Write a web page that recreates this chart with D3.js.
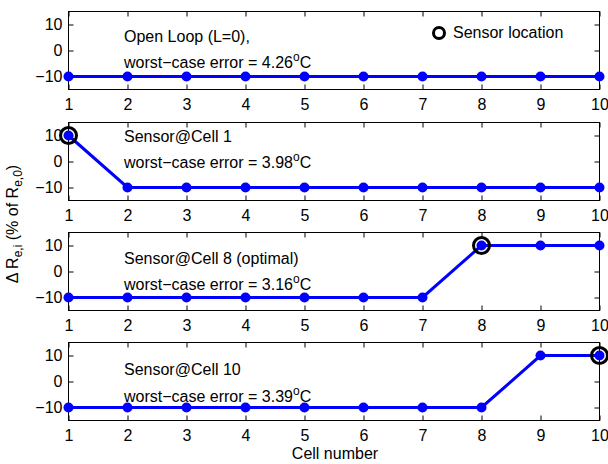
<!DOCTYPE html>
<html><head><meta charset="utf-8">
<script src="https://cdn.jsdelivr.net/npm/d3@7"></script>
<style>body{margin:0;background:#fff}text{font-family:"Liberation Sans",Arial,sans-serif}</style>
</head><body><svg id="c" width="608" height="464"></svg>
<script>
const cells = [1,2,3,4,5,6,7,8,9,10];
const openLoop = [-10,-10,-10,-10,-10,-10,-10,-10,-10,-10];
const sensorCell1 = [10,-10,-10,-10,-10,-10,-10,-10,-10,-10];
const sensorCell8 = [-10,-10,-10,-10,-10,-10,-10,10,10,10];
const sensorCell10 = [-10,-10,-10,-10,-10,-10,-10,-10,10,10];
const series = [openLoop, sensorCell1, sensorCell8, sensorCell10];
const sensorLoc = [null, 1, 8, 10];
const titles = ["Open Loop (L=0),", "Sensor@Cell 1", "Sensor@Cell 8 (optimal)", "Sensor@Cell 10"];
const errors = ["4.26", "3.98", "3.16", "3.39"];
const yTicks = [-10, 0, 10];
const yDomain = [-15, 15];

const svg = d3.select("#c");
const left = 68.5, right = 599.5;
const tops = [11.5, 122.5, 232.5, 342.5];
const titleOff = [30, 19, 31, 32];
const errOff = [56, 45, 57, 59];
const ph = 78;
const x = d3.scaleLinear().domain([1,10]).range([left,right]);
const blue = "#0000ff";
const fs = "16px";

series.forEach((vals, i) => {
  const top = tops[i], bottom = top + ph;
  const y = d3.scaleLinear().domain(yDomain).range([bottom, top]);
  const g = svg.append("g");
  g.append("rect").attr("x", left).attr("y", top).attr("width", right-left).attr("height", ph)
    .attr("fill","none").attr("stroke","#000").attr("stroke-width",1);
  const tl = 5;
  const xb = g.append("g").attr("transform",`translate(0,${bottom})`)
    .call(d3.axisBottom(x).tickValues(cells).tickSize(-tl).tickPadding(9).tickFormat(d3.format("d")));
  const xt = g.append("g").attr("transform",`translate(0,${top})`)
    .call(d3.axisTop(x).tickValues(cells).tickSize(-tl).tickFormat(""));
  const yl = g.append("g").attr("transform",`translate(${left},0)`)
    .call(d3.axisLeft(y).tickValues(yTicks).tickSize(-tl).tickPadding(6).tickFormat(d => d < 0 ? "\u2212" + Math.abs(d) : d));
  const yr = g.append("g").attr("transform",`translate(${right},0)`)
    .call(d3.axisRight(y).tickValues(yTicks).tickSize(-tl).tickFormat(""));
  [xb,xt,yl,yr].forEach(a => {
    a.select(".domain").remove();
    a.selectAll(".tick line").attr("stroke","#000");
    a.selectAll("text").attr("fill","#000").style("font-size",fs).style("font-family",'"Liberation Sans",Arial,sans-serif');
  });
  const line = d3.line().x((d,j) => x(cells[j])).y(d => y(d));
  g.append("path").datum(vals).attr("d", line).attr("fill","none").attr("stroke",blue).attr("stroke-width",3);
  g.selectAll("circle.pt").data(vals).enter().append("circle").attr("class","pt")
    .attr("cx",(d,j)=>x(cells[j])).attr("cy",d=>y(d)).attr("r",5).attr("fill",blue);
  if (sensorLoc[i] !== null) {
    const j = cells.indexOf(sensorLoc[i]);
    g.append("circle").attr("cx", x(cells[j])).attr("cy", y(vals[j])).attr("r", 8)
      .attr("fill","none").attr("stroke","#000").attr("stroke-width",3);
  }
  g.append("text").attr("x",124).attr("y",top+titleOff[i]).style("font-size",fs).text(titles[i]);
  const t2 = g.append("text").attr("x",124).attr("y",top+errOff[i]).style("font-size",fs);
  t2.append("tspan").text("worst\u2212case error = " + errors[i]);
  t2.append("tspan").attr("dy",-7).style("font-size","12px").text("o");
  t2.append("tspan").attr("dy",7).text("C");
});

svg.append("circle").attr("cx",439).attr("cy",33).attr("r",5.5).attr("fill","none").attr("stroke","#000").attr("stroke-width",3);
svg.append("text").attr("x",453).attr("y",38).style("font-size",fs).text("Sensor location");

svg.append("text").attr("x",335).attr("y",459).attr("text-anchor","middle").style("font-size",fs).text("Cell number");
const ylab = svg.append("text").attr("transform","translate(18,224) rotate(-90)").attr("text-anchor","middle").style("font-size",fs);
ylab.append("tspan").text("\u0394 R");
ylab.append("tspan").attr("dy",4).style("font-size","12px").text("e,i");
ylab.append("tspan").attr("dy",-4).text(" (% of R");
ylab.append("tspan").attr("dy",4).style("font-size","12px").text("e,0");
ylab.append("tspan").attr("dy",-4).text(")");
</script></body></html>
